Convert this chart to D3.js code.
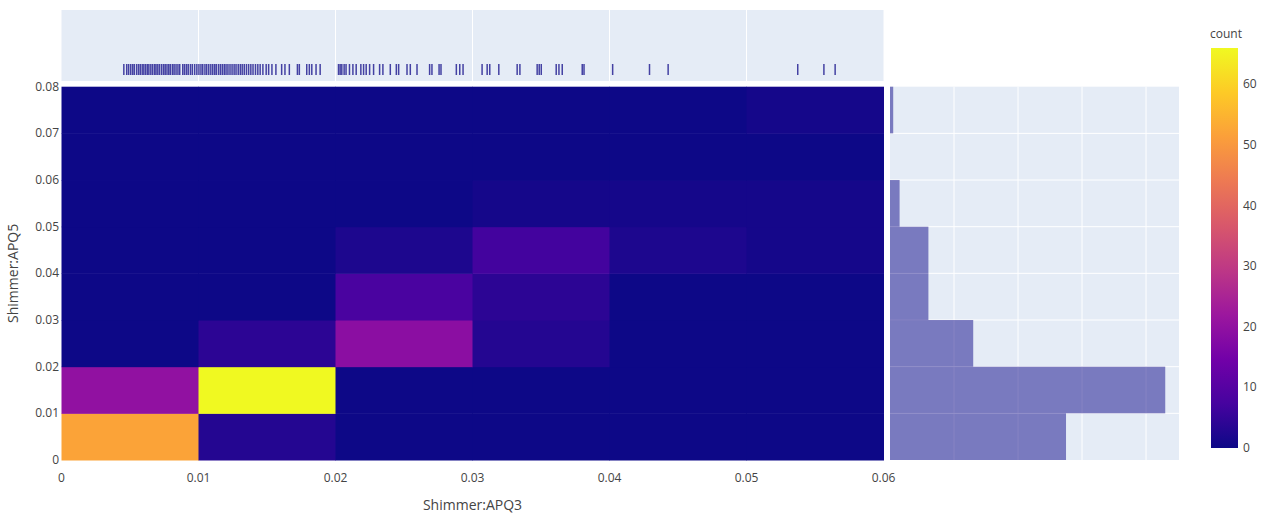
<!DOCTYPE html>
<html>
<head>
<meta charset="utf-8">
<script src="https://cdn.jsdelivr.net/npm/d3@7"></script>
<style>
  html, body { margin: 0; padding: 0; background: #fff; }
  svg { display: block; font-family: "Open Sans", "Noto Sans", sans-serif; }
</style>
</head>
<body>
<svg id="chart" width="1263" height="514"></svg>
<script>
// Bin edges for Shimmer:APQ3 (x) and Shimmer:APQ5 (y)
const xEdges = [0, 0.01, 0.02, 0.03, 0.04, 0.05, 0.06];
const yEdges = [0, 0.01, 0.02, 0.03, 0.04, 0.05, 0.06, 0.07, 0.08];

// Counts per cell: one row per y bin (bottom to top), one column per x bin
const cellCounts = [
  [52,  3,  0, 0, 0, 0],
  [20, 66,  0, 0, 0, 0],
  [ 0,  4, 19, 3, 0, 0],
  [ 0,  0,  8, 4, 0, 0],
  [ 0,  0,  2, 7, 2, 1],
  [ 0,  0,  0, 1, 1, 1],
  [ 0,  0,  0, 0, 0, 0],
  [ 0,  0,  0, 0, 0, 1]
];

// Shimmer:APQ3 values shown in the rug above the heatmap
const rugValues = [
  0.00455, 0.00476, 0.00490, 0.00505, 0.00519, 0.00531, 0.00548, 0.00562, 0.00575, 0.00589,
  0.00601, 0.00614, 0.00627, 0.00638, 0.00652, 0.00665, 0.00679, 0.00690, 0.00703, 0.00716,
  0.00731, 0.00745, 0.00757, 0.00770, 0.00783, 0.00795, 0.00810, 0.00822, 0.00836, 0.00850,
  0.00863, 0.00885, 0.00898, 0.00912, 0.00925, 0.00941, 0.00955, 0.00972, 0.00988,
  0.01003, 0.01018, 0.01031, 0.01047, 0.01060, 0.01075, 0.01090, 0.01104, 0.01118, 0.01130,
  0.01146, 0.01160, 0.01174, 0.01188, 0.01201, 0.01215, 0.01230, 0.01245, 0.01260, 0.01274,
  0.01290, 0.01305, 0.01319, 0.01334, 0.01350, 0.01366, 0.01382, 0.01398, 0.01416, 0.01433,
  0.01450, 0.01470, 0.01494, 0.01512, 0.01536, 0.01565, 0.01607, 0.01631, 0.01663, 0.01722,
  0.01736, 0.01790, 0.01809, 0.01827, 0.01858, 0.01888,
  0.02022, 0.02034, 0.02046, 0.02063, 0.02077, 0.02102, 0.02127, 0.02151, 0.02185, 0.02205,
  0.02224, 0.02249, 0.02278, 0.02322, 0.02346, 0.02400, 0.02444, 0.02461, 0.02522, 0.02546,
  0.02595, 0.02687, 0.02704, 0.02756, 0.02770, 0.02882, 0.02907, 0.02931,
  0.03070, 0.03107, 0.03126, 0.03192, 0.03326, 0.03346, 0.03472, 0.03487, 0.03502, 0.03611,
  0.03631, 0.03655, 0.03801, 0.03814,
  0.04023, 0.04292, 0.04428,
  0.05374, 0.05565, 0.05647
];

const xTicks = [0, 0.01, 0.02, 0.03, 0.04, 0.05, 0.06];
const yTicks = [0, 0.01, 0.02, 0.03, 0.04, 0.05, 0.06, 0.07, 0.08];
const histGridTicks = [20, 40, 60, 80];
const colorbarTicks = [0, 10, 20, 30, 40, 50, 60];

// Plasma colour stops
const plasmaStops = [
  [0.0000, "#0d0887"], [0.1111, "#46039f"], [0.2222, "#7201a8"], [0.3333, "#9c179e"],
  [0.4444, "#bd3786"], [0.5556, "#d8576b"], [0.6667, "#ed7953"], [0.7778, "#fb9f3a"],
  [0.8889, "#fdca26"], [1.0000, "#f0f921"]
];

const svg = d3.select("#chart");
const gridBg = "#e5ecf6";
const textColor = "#444";

// Layout
const heat = { left: 61.5, right: 883.5, top: 86.7, bottom: 460 };
const rugPanel = { top: 10, bottom: 81 };
const histPanel = { left: 890, right: 1179 };
const cbar = { left: 1211, right: 1238, top: 48, bottom: 448 };

const x = d3.scaleLinear().domain([0, 0.06]).range([heat.left, heat.right]);
const y = d3.scaleLinear().domain([0, 0.08]).range([heat.bottom, heat.top]);

const maxCount = d3.max(cellCounts.flat());
const color = d3.scaleLinear()
  .domain(plasmaStops.map(s => s[0] * maxCount))
  .range(plasmaStops.map(s => s[1]))
  .interpolate(d3.interpolateRgb)
  .clamp(true);

// ---- Rug panel (top) ----
const rug = svg.append("g");
rug.append("rect")
  .attr("x", heat.left).attr("y", rugPanel.top)
  .attr("width", heat.right - heat.left).attr("height", rugPanel.bottom - rugPanel.top)
  .attr("fill", gridBg);
rug.selectAll("line.grid").data(xTicks.slice(1, -1)).join("line")
  .attr("class", "grid")
  .attr("x1", d => x(d)).attr("x2", d => x(d))
  .attr("y1", rugPanel.top).attr("y2", rugPanel.bottom)
  .attr("stroke", "#fff").attr("stroke-width", 1);
rug.selectAll("line.tick").data(rugValues).join("line")
  .attr("class", "tick")
  .attr("x1", d => x(d)).attr("x2", d => x(d))
  .attr("y1", 64).attr("y2", 75)
  .attr("stroke", "#0d0887").attr("stroke-opacity", 0.75).attr("stroke-width", 1.5);

// ---- Heatmap ----
const cells = [];
cellCounts.forEach((row, yi) => row.forEach((c, xi) => {
  cells.push({ x0: xEdges[xi], x1: xEdges[xi + 1], y0: yEdges[yi], y1: yEdges[yi + 1], c });
}));
svg.append("g").selectAll("rect").data(cells).join("rect")
  .attr("x", d => x(d.x0))
  .attr("y", d => y(d.y1))
  .attr("width", d => x(d.x1) - x(d.x0) + 0.5)
  .attr("height", d => y(d.y0) - y(d.y1) + 0.5)
  .attr("fill", d => color(d.c));

// x axis labels
svg.append("g").selectAll("text").data(xTicks).join("text")
  .attr("x", d => x(d)).attr("y", 482)
  .attr("text-anchor", "middle")
  .attr("font-size", 12).attr("fill", textColor)
  .text(d => d3.format("~g")(d));

// y axis labels
svg.append("g").selectAll("text").data(yTicks).join("text")
  .attr("x", 59).attr("y", d => y(d) + 4)
  .attr("text-anchor", "end")
  .attr("font-size", 12).attr("fill", textColor)
  .text(d => d3.format("~g")(d));

// axis titles
svg.append("text")
  .attr("x", (heat.left + heat.right) / 2).attr("y", 510)
  .attr("text-anchor", "middle").attr("font-size", 14).attr("fill", textColor)
  .text("Shimmer:APQ3");
svg.append("text")
  .attr("transform", `translate(18,${(heat.top + heat.bottom) / 2}) rotate(-90)`)
  .attr("text-anchor", "middle").attr("font-size", 14).attr("fill", textColor)
  .text("Shimmer:APQ5");

// ---- Marginal histogram (right) ----
const rowTotals = cellCounts.map(r => d3.sum(r));
const hx = d3.scaleLinear().domain([0, 90.3]).range([histPanel.left, histPanel.right]);
const hist = svg.append("g");
hist.append("rect")
  .attr("x", histPanel.left).attr("y", heat.top)
  .attr("width", histPanel.right - histPanel.left).attr("height", heat.bottom - heat.top)
  .attr("fill", gridBg);
hist.selectAll("line.hgrid").data(yTicks.slice(1, -1)).join("line")
  .attr("class", "hgrid")
  .attr("x1", histPanel.left).attr("x2", histPanel.right)
  .attr("y1", d => y(d)).attr("y2", d => y(d))
  .attr("stroke", "#fff").attr("stroke-width", 1);
hist.selectAll("line.vgrid").data(histGridTicks).join("line")
  .attr("class", "vgrid")
  .attr("x1", d => hx(d)).attr("x2", d => hx(d))
  .attr("y1", heat.top).attr("y2", heat.bottom)
  .attr("stroke", "#fff").attr("stroke-width", 1);
hist.selectAll("rect.bar").data(rowTotals).join("rect")
  .attr("class", "bar")
  .attr("x", hx(0))
  .attr("y", (d, i) => y(yEdges[i + 1]))
  .attr("width", d => hx(d) - hx(0))
  .attr("height", (d, i) => y(yEdges[i]) - y(yEdges[i + 1]))
  .attr("fill", "#0d0887").attr("fill-opacity", 0.5);

// ---- Colour bar ----
const defs = svg.append("defs");
const grad = defs.append("linearGradient")
  .attr("id", "plasma").attr("x1", 0).attr("y1", 1).attr("x2", 0).attr("y2", 0);
grad.selectAll("stop").data(plasmaStops).join("stop")
  .attr("offset", d => d[0]).attr("stop-color", d => d[1]);
svg.append("rect")
  .attr("x", cbar.left).attr("y", cbar.top)
  .attr("width", cbar.right - cbar.left).attr("height", cbar.bottom - cbar.top)
  .attr("fill", "url(#plasma)");
const cy = d3.scaleLinear().domain([0, maxCount]).range([cbar.bottom, cbar.top]);
svg.append("g").selectAll("text").data(colorbarTicks).join("text")
  .attr("x", cbar.right + 5).attr("y", d => cy(d) + 4)
  .attr("font-size", 12).attr("fill", textColor)
  .text(d => d);
svg.append("text")
  .attr("x", cbar.left - 1).attr("y", 38)
  .attr("font-size", 12).attr("fill", textColor)
  .text("count");
</script>
</body>
</html>
